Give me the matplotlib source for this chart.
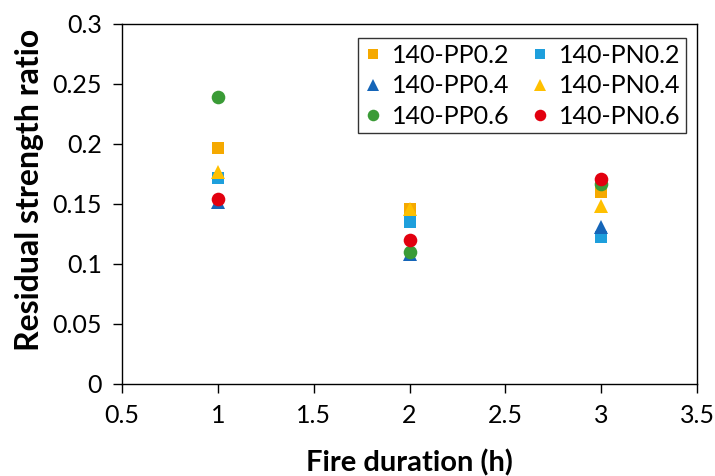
import matplotlib
matplotlib.use("Agg")
import matplotlib.pyplot as plt

plt.rcParams['font.family'] = ['Lato', 'DejaVu Sans']

# fire duration (h)
hours = [1, 2, 3]

# residual strength ratio per mix
pp02 = [0.197, 0.146, 0.160]
pn02 = [0.172, 0.135, 0.1225]
pp04 = [0.152, 0.108, 0.131]
pn04 = [0.177, 0.146, 0.148]
pp06 = [0.239, 0.110, 0.167]
pn06 = [0.154, 0.120, 0.171]

series = [
    ("140-PP0.2", pp02, "s", "#F5A900"),
    ("140-PN0.2", pn02, "s", "#1E9FDC"),
    ("140-PP0.4", pp04, "^", "#1565B8"),
    ("140-PN0.4", pn04, "^", "#FFC000"),
    ("140-PP0.6", pp06, "o", "#3A9B36"),
    ("140-PN0.6", pn06, "o", "#E2000F"),
]

fig = plt.figure(figsize=(7.15, 4.76), dpi=100)
ax = fig.add_axes([0.1706, 0.1933, 0.8044, 0.7563])

for name, vals, mk, col in series:
    size = 9.8 if mk == "o" else (9.3 if mk == "s" else 10.3)
    ax.plot(hours, vals, linestyle="none", marker=mk, markersize=size,
            color=col, markeredgewidth=0, label=name)

ax.set_xlim(0.5, 3.5)
ax.set_ylim(0, 0.3)
ax.set_xticks([0.5, 1, 1.5, 2, 2.5, 3, 3.5])
ax.set_xticklabels(["0.5", "1", "1.5", "2", "2.5", "3", "3.5"])
ax.set_yticks([0, 0.05, 0.1, 0.15, 0.2, 0.25, 0.3])
ax.set_yticklabels(["0", "0.05", "0.1", "0.15", "0.2", "0.25", "0.3"])

ax.tick_params(direction="out", length=6.5, width=1.0, labelsize=18,
               pad=8, color="black")
for sp in ax.spines.values():
    sp.set_linewidth(1.0)
    sp.set_color("black")

ax.set_xlabel("Fire duration (h)", fontsize=21, fontweight="bold", labelpad=16)
ax.set_ylabel("Residual strength ratio", fontsize=23, fontweight="bold")
ax.yaxis.set_label_coords(-0.135, 0.54)

# legend handles in row order: PP / PN pairs side by side
handles, labels = ax.get_legend_handles_labels()
order = [0, 2, 4, 1, 3, 5]
leg = ax.legend([handles[i] for i in order], [labels[i] for i in order],
                ncol=2, loc="upper right", bbox_to_anchor=(0.98, 0.96),
                fontsize=18, frameon=True, fancybox=False,
                handlelength=0.8, handletextpad=0.35, columnspacing=0.8,
                labelspacing=0.3, borderpad=0.22, borderaxespad=0.0,
                markerscale=0.85)
leg.get_frame().set_edgecolor("black")
leg.get_frame().set_linewidth(1.0)

fig.savefig("out.png", dpi=100)
